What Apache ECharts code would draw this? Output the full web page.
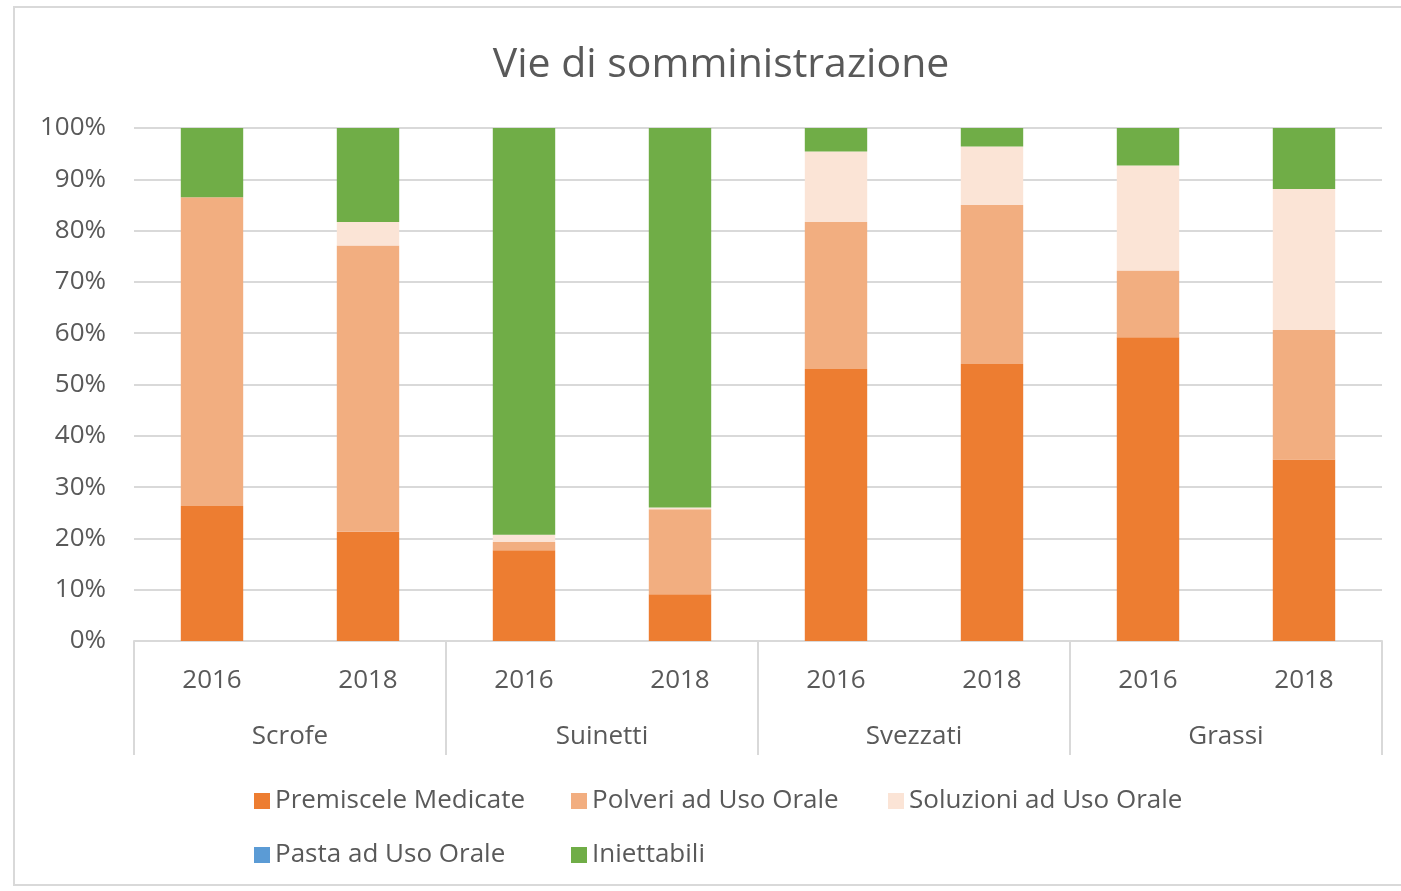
<!DOCTYPE html>
<html>
<head>
<meta charset="utf-8">
<title>Vie di somministrazione</title>
<script src="https://cdn.jsdelivr.net/npm/echarts@6/dist/echarts.min.js"></script>
<style>
    html, body { margin: 0; padding: 0; background: #fff; }
    #chart { width: 1401px; height: 891px; }
</style>
</head>
<body>
<div id="chart"></div>
<script>
// categorie (due livelli)
const gruppi = ['Scrofe', 'Suinetti', 'Svezzati', 'Grassi'];
const anni = ['2016', '2018', '2016', '2018', '2016', '2018', '2016', '2018'];

// valori in % per ogni barra
const premiscele = [26.3, 21.3, 17.7, 9.1, 53.0, 54.0, 59.2, 35.4];
const polveri = [60.2, 55.8, 1.6, 16.6, 28.7, 31.0, 13.0, 25.2];
const soluzioni = [0, 4.6, 1.4, 0.3, 13.7, 11.4, 20.5, 27.5];
const pasta = [0, 0, 0, 0, 0, 0, 0, 0];
const iniettabili = [13.5, 18.3, 79.3, 74.0, 4.6, 3.6, 7.3, 11.9];

const yTicks = [0, 10, 20, 30, 40, 50, 60, 70, 80, 90, 100];

const fontFam = '"Open Sans", sans-serif';
const grigio = '#595959';
const linea = '#D9D9D9';

function Grafico() {

}

Grafico.prototype.serie = function (nome, dati, colore) {
    return {
        name: nome,
        type: 'bar',
        stack: 'totale',
        barWidth: '40%',
        itemStyle: { color: colore },
        emphasis: { disabled: true },
        data: dati
    };
};

Grafico.prototype.run = function () {
    let chart = echarts.init(document.getElementById('chart'));
    let option = {
        animation: false,
        textStyle: { fontFamily: fontFam },
        title: {
            text: 'Vie di somministrazione',
            left: 716,
            textAlign: 'center',
            top: 40,
            textStyle: { fontFamily: fontFam, fontSize: 41, fontWeight: 'normal', color: grigio }
        },
        // cornice del grafico
        graphic: [{
            type: 'rect',
            shape: { x: 14, y: 7, width: 1400, height: 878 },
            style: { fill: 'none', stroke: linea, lineWidth: 2 },
            silent: true
        }],
        legend: {
            left: 249,
            top: 774,
            width: 960,
            itemWidth: 16,
            itemHeight: 16,
            itemGap: 10,
            icon: 'rect',
            textStyle: {
                fontFamily: fontFam, fontSize: 26, color: grigio,
                width: 286, lineHeight: 44
            },
            data: ['Premiscele Medicate', 'Polveri ad Uso Orale', 'Soluzioni ad Uso Orale',
                'Pasta ad Uso Orale', 'Iniettabili']
        },
        grid: {
            left: 134,
            right: 19,
            top: 128,
            height: 513,
            containLabel: false
        },
        xAxis: [
            {
                type: 'category',
                data: anni,
                axisLine: { lineStyle: { color: linea, width: 2 } },
                axisTick: { show: false },
                axisLabel: { color: grigio, fontSize: 26, margin: 27, fontFamily: fontFam }
            },
            {
                type: 'category',
                data: gruppi,
                position: 'bottom',
                axisLine: { show: false },
                axisTick: { show: true, length: 114, lineStyle: { color: linea, width: 2 } },
                axisLabel: { color: grigio, fontSize: 26, margin: 83, fontFamily: fontFam }
            }
        ],
        yAxis: {
            type: 'value',
            min: yTicks[0],
            max: yTicks[yTicks.length - 1],
            interval: 10,
            axisLine: { show: false },
            axisTick: { show: false },
            splitLine: { lineStyle: { color: linea, width: 2 } },
            axisLabel: {
                color: grigio, fontSize: 26, margin: 28, fontFamily: fontFam,
                formatter: function (v) {
                    return v + '%';
                }
            }
        },
        series: [
            this.serie('Premiscele Medicate', premiscele, '#ED7D31'),
            this.serie('Polveri ad Uso Orale', polveri, '#F2AE80'),
            this.serie('Soluzioni ad Uso Orale', soluzioni, '#FBE4D6'),
            this.serie('Pasta ad Uso Orale', pasta, '#5B9BD5'),
            this.serie('Iniettabili', iniettabili, '#70AD47')
        ]
    };
    chart.setOption(option);
};

let grafico = new Grafico();
grafico.run();
</script>
</body>
</html>
